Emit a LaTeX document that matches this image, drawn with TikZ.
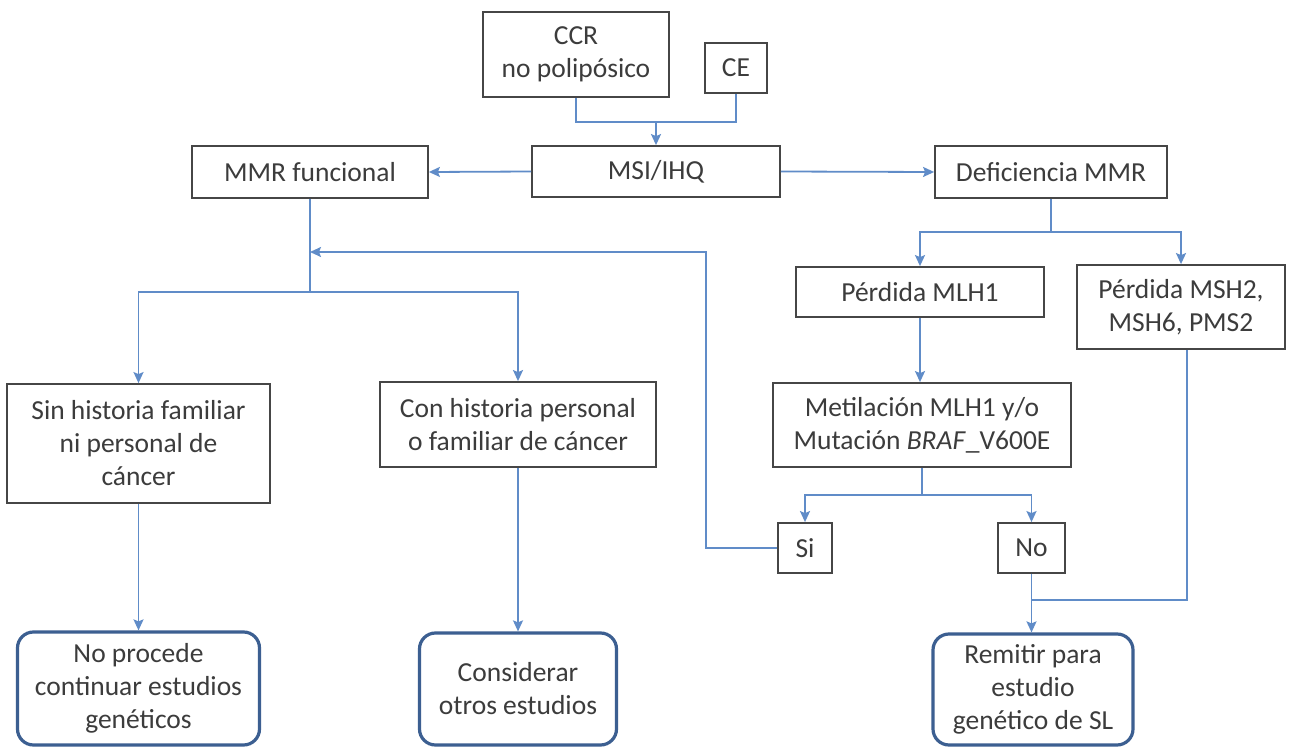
\documentclass[tikz,border=0pt]{standalone}
\usepackage{fontspec}
\setmainfont{Carlito}
\usetikzlibrary{arrows.meta}
\definecolor{linec}{RGB}{96,140,200}
\definecolor{boxc}{RGB}{70,70,70}
\definecolor{endc}{RGB}{60,95,145}
\definecolor{txtc}{RGB}{60,60,60}
\tikzset{
  box/.style={draw=boxc, line width=1.8pt, fill=white, text=txtc, align=center, inner sep=0pt,
    font=\fontsize{27.5}{33}\selectfont},
  endbox/.style={box, draw=endc, line width=3.2pt, rounded corners=16pt},
  conn/.style={draw=linec, line width=1.8pt},
  arr/.style={conn, -{Stealth[length=11pt,width=10pt,inset=2pt]}},
}
\begin{document}
\begin{tikzpicture}[x=1pt,y=-1pt]
\useasboundingbox (0,0) rectangle (1291,749);
\fill[white] (0,0) rectangle (1291,749);
% nodes
\node[box, minimum width=186, minimum height=85] (ccr) at (576,54.5) {CCR\\no polipósico};
\node[box, minimum width=62, minimum height=50] (ce) at (736,68) {CE};
\node[box, minimum width=248, minimum height=51] (msi) at (656,171.5) {MSI/IHQ};
\node[box, minimum width=236, minimum height=52] (mmr) at (310,172) {MMR funcional};
\node[box, minimum width=232, minimum height=52] (def) at (1051,172) {Deficiencia MMR};
\node[box, minimum width=248, minimum height=50] (mlh) at (920,292) {Pérdida MLH1};
\node[box, minimum width=208, minimum height=84] (msh) at (1181,307) {Pérdida MSH2,\\MSH6, PMS2};
\node[box, minimum width=298, minimum height=84] (met) at (922,425) {Metilación MLH1 y/o\\Mutación \textit{BRAF}\_V600E};
\node[box, minimum width=54, minimum height=50] (si) at (805,548) {Si};
\node[box, minimum width=67, minimum height=50] (no) at (1031.5,548) {No};
\node[box, minimum width=263, minimum height=119] (sin) at (138.5,443.5) {Sin historia familiar\\ni personal de\\cáncer};
\node[box, minimum width=276, minimum height=85] (con) at (518,424.5) {Con historia personal\\o familiar de cáncer};
\node[endbox, minimum width=242, minimum height=113] (noproc) at (138.5,688.5) {No procede\\continuar estudios\\genéticos};
\node[endbox, minimum width=197, minimum height=112] (cons) at (518,689) {Considerar\\otros estudios};
\node[endbox, minimum width=200, minimum height=111] (rem) at (1033,689.5) {Remitir para\\estudio\\genético de SL};
% junctions
\coordinate (j1) at (656,122);
\coordinate (j2) at (1051,232);
\coordinate (j3) at (922,495);
\coordinate (j4) at (310,252);
\coordinate (j5) at (310,292);
\coordinate (j6) at (1031.5,600);
\coordinate (k1) at (706,548);
% connectors
\draw[conn] (ccr.south) |- (j1) -| (ce.south);
\draw[arr] (j1) -- (msi.north);
\draw[arr] (msi.west) -- (mmr.east);
\draw[arr] (msi.east) -- (def.west);
\draw[conn] (def.south) -- (j2);
\draw[arr] (j2) -| (mlh.north);
\draw[arr] (j2) -| (msh.north);
\draw[arr] (mlh.south) -- (mlh.south |- met.north);
\draw[conn] (met.south) -- (j3);
\draw[arr] (j3) -| (si.north);
\draw[arr] (j3) -| (no.north);
\draw[arr] (si.west) -- (k1) |- (j4);
\draw[conn] (mmr.south) -- (j5);
\draw[arr] (j5) -| (sin.north);
\draw[arr] (j5) -| (con.north);
\draw[arr] (sin.south) -- (noproc.north);
\draw[arr] (con.south) -- (cons.north);
\draw[arr] (no.south) -- (no.south |- rem.north);
\draw[conn] ([xshift=6pt]msh.south) |- (j6);
\end{tikzpicture}
\end{document}
